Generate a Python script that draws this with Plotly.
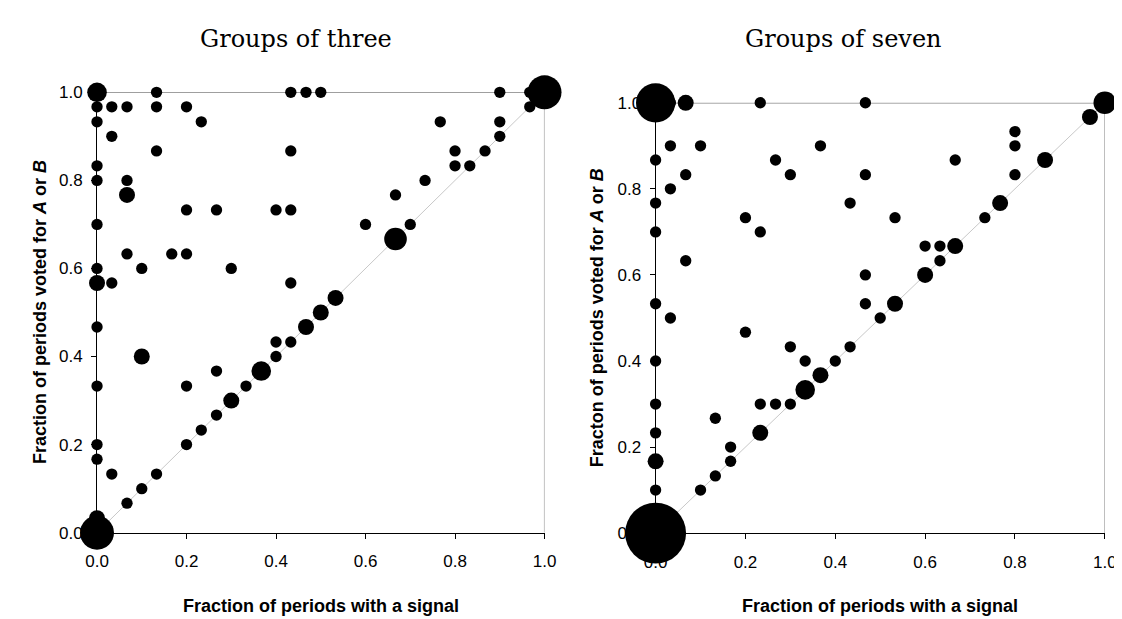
import plotly.graph_objects as go

# ---- Groups of three: (signal fraction, voted A/B fraction, number of subjects)
three_x = [0, 0.133, 0.433, 0.467, 0.5, 0.9, 0.967, 1,
           0, 0.033, 0.067, 0.133, 0.2, 0.967,
           0, 0.233, 0.767, 0.9,
           0.033, 0.9,
           0.133, 0.433, 0.8, 0.867,
           0, 0.8, 0.833,
           0, 0.067, 0.733,
           0.067, 0.667,
           0.2, 0.267, 0.4, 0.433,
           0, 0.6, 0.7,
           0.667,
           0.067, 0.167, 0.2,
           0, 0.1, 0.3,
           0, 0.033, 0.433,
           0.533, 0.5,
           0, 0.467,
           0.4, 0.433,
           0.1, 0.4,
           0.267, 0.367,
           0, 0.2, 0.333,
           0.3, 0.267, 0.233,
           0, 0.2,
           0, 0.033, 0.133,
           0.1, 0.067, 0, 0]
three_y = [1, 1, 1, 1, 1, 1, 1, 1,
           0.967, 0.967, 0.967, 0.967, 0.967, 0.967,
           0.933, 0.933, 0.933, 0.933,
           0.9, 0.9,
           0.867, 0.867, 0.867, 0.867,
           0.833, 0.833, 0.833,
           0.8, 0.8, 0.8,
           0.767, 0.767,
           0.733, 0.733, 0.733, 0.733,
           0.7, 0.7, 0.7,
           0.667,
           0.633, 0.633, 0.633,
           0.6, 0.6, 0.6,
           0.567, 0.567, 0.567,
           0.533, 0.5,
           0.467, 0.467,
           0.433, 0.433,
           0.4, 0.4,
           0.367, 0.367,
           0.333, 0.333, 0.333,
           0.3, 0.267, 0.233,
           0.2, 0.2,
           0.167, 0.133, 0.133,
           0.1, 0.067, 0.033, 0]
three_n = [3, 1, 1, 1, 1, 1, 1, 9,
           1, 1, 1, 1, 1, 1,
           1, 1, 1, 1,
           1, 1,
           1, 1, 1, 1,
           1, 1, 1,
           1, 1, 1,
           2, 1,
           1, 1, 1, 1,
           1, 1, 1,
           4,
           1, 1, 1,
           1, 1, 1,
           2, 1, 1,
           2, 2,
           1, 2,
           1, 1,
           2, 1,
           1, 3,
           1, 1, 1,
           2, 1, 1,
           1, 1,
           1, 1, 1,
           1, 1, 2, 9]

# ---- Groups of seven
seven_x = [0, 0.033, 0.067, 0.233, 0.467, 1,
           0.967, 0.8,
           0.033, 0.1, 0.367, 0.8,
           0, 0.267, 0.667, 0.867,
           0.067, 0.3, 0.467, 0.8,
           0.033,
           0, 0.433, 0.767,
           0.2, 0.533, 0.733,
           0, 0.233,
           0.6, 0.633, 0.667,
           0.067, 0.633,
           0.467, 0.6,
           0, 0.467, 0.533,
           0.033, 0.5,
           0.2,
           0.3, 0.433,
           0, 0.333, 0.4,
           0.367, 0.333,
           0, 0.233, 0.267, 0.3,
           0.133,
           0, 0.233,
           0.167,
           0, 0.167,
           0.133,
           0, 0.1,
           0.033, 0]
seven_y = [1, 1, 1, 1, 1, 1,
           0.967, 0.933,
           0.9, 0.9, 0.9, 0.9,
           0.867, 0.867, 0.867, 0.867,
           0.833, 0.833, 0.833, 0.833,
           0.8,
           0.767, 0.767, 0.767,
           0.733, 0.733, 0.733,
           0.7, 0.7,
           0.667, 0.667, 0.667,
           0.633, 0.633,
           0.6, 0.6,
           0.533, 0.533, 0.533,
           0.5, 0.5,
           0.467,
           0.433, 0.433,
           0.4, 0.4, 0.4,
           0.367, 0.333,
           0.3, 0.3, 0.3, 0.3,
           0.267,
           0.233, 0.233,
           0.2,
           0.167, 0.167,
           0.133,
           0.1, 0.1,
           0.033, 0]
seven_n = [12, 1, 2, 1, 1, 4,
           2, 1,
           1, 1, 1, 1,
           1, 1, 1, 2,
           1, 1, 1, 1,
           1,
           1, 1, 2,
           1, 1, 1,
           1, 1,
           1, 1, 2,
           1, 1,
           1, 2,
           1, 1, 2,
           1, 1,
           1,
           1, 1,
           1, 1, 1,
           2, 3,
           1, 1, 1, 1,
           1,
           1, 2,
           1,
           2, 1,
           1,
           1, 1,
           1, 29]

tick_vals = [0, 0.2, 0.4, 0.6, 0.8, 1.0]
tick_text = ["0.0", "0.2", "0.4", "0.6", "0.8", "1.0"]
diag = [0, 1]

titles = ["Groups of three", "Groups of seven"]
x_title = "Fraction of periods with a signal"
y_titles = ["Fraction of periods voted for <i>A</i> or <i>B</i>",
            "Fracton of periods voted for <i>A</i> or <i>B</i>"]

W, H = 1122, 619
fig = go.Figure()

panels = [
    dict(x=three_x, y=three_y, n=three_n, xa="x", ya="y",
         xdom=[78.7 / W, 536 / W], ydom=[1 - 532 / H, 1 - 77.7 / H],
         tx=282, ytx=21),
    dict(x=seven_x, y=seven_y, n=seven_n, xa="x2", ya="y2",
         xdom=[649.5 / W, 1108.5 / W], ydom=[1 - 532.5 / H, 1 - 88.5 / H],
         tx=841, ytx=590),
]

for i, p in enumerate(panels):
    fig.add_trace(go.Scatter(x=diag, y=diag, mode="lines", xaxis=p["xa"], yaxis=p["ya"],
                             line=dict(color="#c8c8c8", width=1), hoverinfo="skip",
                             showlegend=False))
    fig.add_trace(go.Scatter(x=p["x"], y=p["y"], mode="markers", xaxis=p["xa"], yaxis=p["ya"],
                             marker=dict(size=p["n"], sizemode="area", sizeref=1 / 64,
                                         color="black", opacity=1, line=dict(width=0)),
                             opacity=1, cliponaxis=False, showlegend=False))
    axis_common = dict(range=[0, 1], showgrid=False, zeroline=False, showline=True,
                       linecolor="black", linewidth=1, ticks="outside", ticklen=5,
                       tickcolor="black", tickvals=tick_vals, ticktext=tick_text,
                       tickfont=dict(family="Liberation Sans", size=17, color="black"),
                       layer="below traces", fixedrange=True)
    xkey = "xaxis" if i == 0 else "xaxis2"
    ykey = "yaxis" if i == 0 else "yaxis2"
    fig.update_layout(**{
        xkey: dict(axis_common, domain=p["xdom"], anchor=p["ya"], ticklabelstandoff=8),
        ykey: dict(axis_common, domain=p["ydom"], anchor=p["xa"], ticklabelstandoff=5),
    })
    # top and right frame lines
    fig.add_shape(type="line", xref=p["xa"], yref=p["ya"], x0=0, x1=1, y0=1, y1=1,
                  line=dict(color="#7f7f7f", width=1.2), layer="below")
    fig.add_shape(type="line", xref=p["xa"], yref=p["ya"], x0=1, x1=1, y0=0, y1=1,
                  line=dict(color="#9a9a9a", width=1.2), layer="below")
    # titles
    fig.add_annotation(text=titles[i], xref="paper", yref="paper", x=p["tx"] / W,
                       y=1 - 23 / H, xanchor="center", yanchor="middle", showarrow=False,
                       font=dict(family="DejaVu Serif", size=24, color="black"))
    fig.add_annotation(text="<b>" + x_title + "</b>", xref="paper", yref="paper",
                       x=sum(p["xdom"]) / 2, y=1 - 608 / H, xanchor="center",
                       yanchor="middle", showarrow=False,
                       font=dict(family="Liberation Sans", size=18, color="black"))
    fig.add_annotation(text="<b>" + y_titles[i] + "</b>", xref="paper", yref="paper",
                       x=p["ytx"] / W, y=sum(p["ydom"]) / 2, xanchor="center",
                       yanchor="middle", showarrow=False, textangle=-90,
                       font=dict(family="Liberation Sans", size=18, color="black"))

fig.update_layout(width=W, height=H, margin=dict(l=0, r=0, t=0, b=0),
                  paper_bgcolor="white", plot_bgcolor="white", showlegend=False)

fig.write_html("out.html")
